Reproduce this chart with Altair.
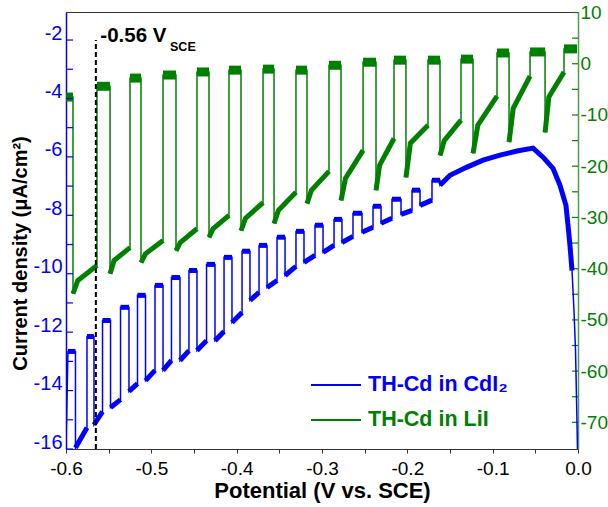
import altair as alt
import pandas as pd

FONT = "Liberation Sans"
BLUE = "#0000ff"
GREEN = "#008000"

# ---------------- data ----------------
# Green trace (TH-Cd in LiI), right axis. Light/dark chopping cycles.
green_on = [-0.6000, -0.5637, -0.5250, -0.4863, -0.4465, -0.4090, -0.3691, -0.3305,
            -0.2918, -0.2519, -0.2156, -0.1758, -0.1371, -0.0949, -0.0562, -0.0164]
green_off = [-0.5918, -0.5484, -0.5121, -0.4711, -0.4324, -0.3949, -0.3562, -0.3176,
             -0.2777, -0.2367, -0.2016, -0.1617, -0.1230, -0.0808, -0.0386, -0.0012]
green_light = [-6.5, -4.4, -2.8, -2.2, -1.6, -1.25, -1.05, -1.25,
               -0.3, 0.3, 0.7, 0.7, 0.9, 2.1, 2.3, 2.9]
green_dark_start = [-44.9, -41.0, -38.8, -36.5, -33.9, -32.6, -31.2, -27.3,
                    -26.7, -24.7, -22.2, -17.9, -17.5, -15.3, -13.4]
green_dark_knee = [-42.3, -38.4, -37.1, -34.9, -32.2, -30.2, -28.6, -24.7,
                   -22.4, -19.8, -15.5, -15.0, -12.0, -8.7, -6.5]
green_dark_end = [-39.4, -35.9, -34.5, -32.2, -29.6, -27.1, -25.1, -21.0,
                  -16.9, -14.6, -12.0, -11.0, -6.3, -2.4, -1.6]

# Blue trace (TH-Cd in CdI2), left axis.
blue_start = (-0.6000, -16.0)
blue_on = [-0.5977, -0.5754, -0.5572, -0.5361, -0.5162, -0.4957, -0.4764, -0.4559,
           -0.4353, -0.4148, -0.3937, -0.3738, -0.3527, -0.3305, -0.3082, -0.2859,
           -0.2637, -0.2402, -0.2180, -0.1945, -0.1711]
blue_off = [-0.5889, -0.5672, -0.5478, -0.5262, -0.5068, -0.4863, -0.4664, -0.4465,
            -0.4254, -0.4055, -0.3844, -0.3644, -0.3433, -0.3211, -0.2988, -0.2766,
            -0.2531, -0.2308, -0.2074, -0.1851, -0.1617]
blue_light = [-12.66, -12.15, -11.60, -11.15, -10.74, -10.40, -10.13, -9.89, -9.68,
              -9.44, -9.23, -9.03, -8.75, -8.55, -8.34, -8.14, -7.93, -7.69, -7.45,
              -7.14, -6.80]
blue_dark_start = [-15.96, -15.17, -14.58, -14.03, -13.66, -13.31, -12.97, -12.63,
                   -12.29, -11.67, -10.91, -10.47, -10.06, -9.61, -9.27, -8.93, -8.58,
                   -8.27, -7.97, -7.66, -6.97]
blue_dark_end = [-15.27, -14.72, -14.31, -13.76, -13.31, -12.97, -12.63, -12.29,
                 -11.98, -11.33, -10.64, -10.23, -9.75, -9.37, -9.03, -8.72, -8.41,
                 -8.10, -7.83, -7.48]
blue_tail_v = [-0.1500, -0.1301, -0.1113, -0.0914, -0.0715, -0.0527, -0.0410, -0.0293,
               -0.0211, -0.0141, -0.0117, -0.0094, -0.0070, -0.0047, -0.0029, -0.0017,
               -0.0006]
blue_tail_j = [-6.63, -6.35, -6.11, -5.94, -5.80, -5.70, -6.01, -6.39, -6.97, -7.66,
               -8.34, -9.03, -9.89, -11.26, -12.63, -14.34, -16.0]

series_names = ["TH-Cd in CdI\u2082", "TH-Cd in LiI"]

x_ticks = [-0.6, -0.55, -0.5, -0.45, -0.4, -0.35, -0.3, -0.25, -0.2, -0.15, -0.1, -0.05, 0.0]
left_labels = [-16, -14, -12, -10, -8, -6, -4, -2]
left_minor = [-16, -15, -14, -13, -12, -11, -10, -9, -8, -7, -6, -5, -4, -3, -2]
right_labels = [-70, -60, -50, -40, -30, -20, -10, 0, 10]
right_minor = [-70, -65, -60, -55, -50, -45, -40, -35, -30, -25, -20, -15, -10, -5, 0, 5, 10]

marker_v = -0.565
marker_top = -2.0
marker_text = "-0.56 V"
marker_sub = "SCE"

# ---------------- build traces ----------------
gx, gy = [], []
# noisy bands (plateaus and dark segments, without the switching edges)
gbx, gby, gbs, gbk = [], [], [], []
seg = 0
for i in range(len(green_on)):
    if i > 0:
        gx.append(green_on[i]); gy.append(green_dark_end[i - 1])
    gx.append(green_on[i]); gy.append(green_light[i])
    gx.append(green_off[i]); gy.append(green_light[i])
    gbx += [green_on[i], green_off[i]]; gby += [green_light[i], green_light[i]]
    gbs += [seg, seg]; gbk += ["light", "light"]; seg += 1
    if i < len(green_on) - 1:
        knee_v = green_off[i] + 0.2 * (green_on[i + 1] - green_off[i])
        gx.append(green_off[i]); gy.append(green_dark_start[i])
        gx.append(knee_v); gy.append(green_dark_knee[i])
        gbx += [green_off[i], knee_v, green_on[i + 1]]
        gby += [green_dark_start[i], green_dark_knee[i], green_dark_end[i]]
        gbs += [seg] * 3; gbk += ["dark"] * 3; seg += 1
green_df = pd.DataFrame({"V": gx, "J": gy, "i": range(len(gx)), "s": series_names[1]})
green_band = pd.DataFrame({"V": gbx, "J": gby, "i": range(len(gbx)), "seg": gbs, "k": gbk})

bx, by = [blue_start[0]], [blue_start[1]]
bbx, bby, bbs = [], [], []
seg = 0
for i in range(len(blue_on)):
    if i > 0:
        bx.append(blue_on[i]); by.append(blue_dark_end[i - 1])
        bbx += [blue_off[i - 1], blue_on[i]]
        bby += [blue_dark_start[i - 1], blue_dark_end[i - 1]]
        bbs += [seg, seg]; seg += 1
    bx.append(blue_on[i]); by.append(blue_light[i])
    bx.append(blue_off[i]); by.append(blue_light[i])
    bx.append(blue_off[i]); by.append(blue_dark_start[i])
    bbx += [blue_on[i], blue_off[i]]; bby += [blue_light[i], blue_light[i]]
    bbs += [seg, seg]; seg += 1
bx += blue_tail_v
by += blue_tail_j
bbx += [blue_off[-1]] + blue_tail_v[:-4]
bby += [blue_dark_start[-1]] + blue_tail_j[:-4]
bbs += [seg] * (len(blue_tail_v) - 3)
blue_df = pd.DataFrame({"V": bx, "J": by, "i": range(len(bx)), "s": series_names[0]})
blue_band = pd.DataFrame({"V": bbx, "J": bby, "i": range(len(bbx)), "seg": bbs})

W, H = 512, 437

x_scale = alt.Scale(domain=[-0.6, 0.0], nice=False, zero=False)
yl_scale = alt.Scale(domain=[-16, -1.04], nice=False, zero=False)
yr_scale = alt.Scale(domain=[-75.2, 10.1], nice=False, zero=False)

minus_fix = "replace(format(datum.value, '{fmt}'), '\u2212', '-')"

x_axis = alt.Axis(
    title="Potential (V vs. SCE)", values=x_ticks,
    labelExpr="abs(datum.value * 10 - round(datum.value * 10)) < 0.01 ? replace(format(datum.value, '.1f'), '\u2212', '-') : ''",
    labelFont=FONT, labelFontSize=19, labelColor="black", labelPadding=6,
    tickSize=4, tickColor="#333333", domainColor="#333333", grid=False,
    titleFont=FONT, titleFontSize=22, titleFontWeight="bold", titleColor="black",
    titlePadding=2, labelFlush=False,
)
yl_axis = alt.Axis(
    title="Current density (\u03bcA/cm\u00b2)", orient="left", values=left_labels,
    labelExpr=minus_fix.format(fmt="d"), labelFont=FONT, labelFontSize=20,
    labelColor=BLUE, ticks=False, labelPadding=4, labelOffset=-7,
    domainColor=BLUE, domainWidth=1.5, grid=False,
    titleFont=FONT, titleFontSize=20, titleFontWeight="bold", titleColor="black",
    titlePadding=3, titleY=241,
)
yr_axis = alt.Axis(
    title=None, orient="right", values=right_labels,
    labelExpr=minus_fix.format(fmt="d"), labelFont=FONT, labelFontSize=19,
    labelColor=GREEN, ticks=False, labelPadding=2,
    domainColor="#4c9f4c", domainWidth=1.5, grid=False,
)


def legend(color, y):
    return alt.Legend(
        title=None, orient="none", legendX=244, legendY=y, symbolType="stroke",
        symbolSize=2500, symbolStrokeWidth=2, symbolStrokeColor=color,
        labelFont=FONT, labelFontSize=21.5, labelFontWeight="bold", labelColor=color,
        labelOffset=6, labelLimit=300,
    )


def xenc():
    return alt.X("V:Q", scale=x_scale, axis=x_axis)


def ylenc():
    return alt.Y("J:Q", scale=yl_scale, axis=yl_axis)


def yrenc():
    return alt.Y("J:Q", scale=yr_scale, axis=yr_axis)


blue_line = alt.Chart(blue_df).mark_line(strokeWidth=1.5, clip=True).encode(
    x=xenc(), y=ylenc(), order="i:Q",
    color=alt.Color("s:N", scale=alt.Scale(range=[BLUE]), legend=legend(BLUE, 347)),
)
blue_noise = alt.Chart(blue_band).mark_line(strokeWidth=5, color=BLUE, clip=True).encode(
    x=xenc(), y=ylenc(), order="i:Q", detail="seg:N",
)

dash_df = pd.DataFrame({"V": [marker_v], "J": [-16.0], "J2": [marker_top]})
dash = alt.Chart(dash_df).mark_rule(color="black", strokeWidth=2, strokeDash=[5, 3]).encode(
    x=xenc(), y=ylenc(), y2="J2:Q",
)

ann_df = pd.DataFrame({"V": [-0.5598], "J": [-2.07], "t": [marker_text]})
ann = alt.Chart(ann_df).mark_text(
    align="left", baseline="alphabetic", font=FONT, fontSize=20.5, fontWeight="bold", color="black"
).encode(x=xenc(), y=ylenc(), text="t:N")
sub_df = pd.DataFrame({"V": [-0.4781], "J": [-2.36], "t": [marker_sub]})
sub = alt.Chart(sub_df).mark_text(
    align="left", baseline="alphabetic", font=FONT, fontSize=12.5, fontWeight="bold", color="black"
).encode(x=xenc(), y=ylenc(), text="t:N")

lt_df = pd.DataFrame({"J": left_minor})
lticks = alt.Chart(lt_df).mark_rule(color=BLUE, strokeWidth=1.2).encode(
    y=ylenc(), x=alt.value(0), x2=alt.value(7),
)

green_line = alt.Chart(green_df).mark_line(strokeWidth=1.5, clip=True).encode(
    x=xenc(), y=yrenc(), order="i:Q",
    color=alt.Color("s:N", scale=alt.Scale(range=[GREEN]), legend=legend(GREEN, 382)),
)
green_noise = alt.Chart(green_band).mark_line(color=GREEN, clip=True).encode(
    x=xenc(), y=yrenc(), order="i:Q", detail="seg:N",
    strokeWidth=alt.StrokeWidth("k:N", scale=alt.Scale(domain=["light", "dark"], range=[9, 5]), legend=None),
)
rt_df = pd.DataFrame({"J": right_minor})
rticks = alt.Chart(rt_df).mark_rule(color=GREEN, strokeWidth=1.2).encode(
    y=yrenc(), x=alt.value(W - 6), x2=alt.value(W),
)

left = alt.layer(blue_noise, blue_line, dash, ann, sub, lticks)
right = alt.layer(green_noise, green_line, rticks)

chart = (
    alt.layer(right, left)
    .resolve_scale(y="independent", color="independent", strokeWidth="independent")
    .resolve_legend(color="independent")
    .properties(
        width=W, height=H,
        autosize=alt.AutoSizeParams(type="none"),
        padding={"left": 66, "top": 12, "right": 30, "bottom": 58},
        background="white",
    )
    .configure_view(stroke="#333333", strokeWidth=1)
)

chart.save("out.html", embed_options={"renderer": "svg", "actions": False})
